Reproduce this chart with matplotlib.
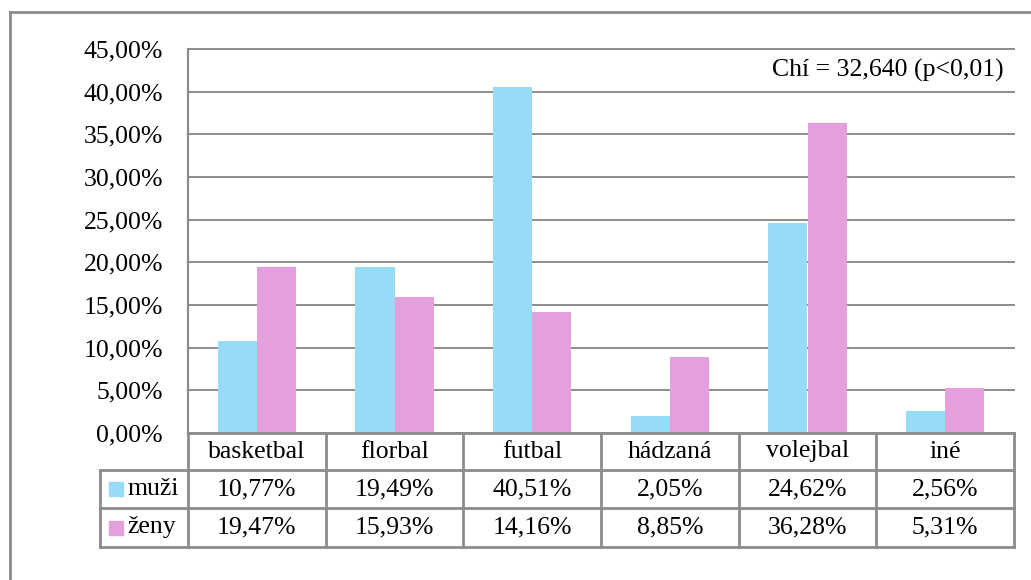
import numpy as np
import matplotlib
matplotlib.use("Agg")
import matplotlib.pyplot as plt
from matplotlib.lines import Line2D
from matplotlib.patches import Rectangle
import matplotlib.transforms as mtransforms

plt.rcParams['font.family'] = ['Liberation Serif', 'DejaVu Serif']

categories = ["basketbal", "florbal", "futbal", "hádzaná", "volejbal", "iné"]
muzi = [10.77, 19.49, 40.51, 2.05, 24.62, 2.56]
zeny = [19.47, 15.93, 14.16, 8.85, 36.28, 5.31]
series_names = ["muži", "ženy"]
yticks = np.arange(0, 46, 5)

c_muzi = "#97dbf7"
c_zeny = "#e4a0dc"
grid_c = "#8c8c8c"
fs = 18.5

W, H = 1031, 580
fig = plt.figure(figsize=(W / 100, H / 100), dpi=100)

# plot area in pixels
L, R, T, B = 188, 1014, 49, 433
ax = fig.add_axes([L / W, 1 - B / H, (R - L) / W, (B - T) / H])

x = np.arange(len(categories))
bw = 0.285
ax.bar(x - bw / 2, muzi, bw, color=c_muzi, zorder=3)
ax.bar(x + bw / 2, zeny, bw, color=c_zeny, zorder=3)

ax.set_xlim(-0.5, len(categories) - 0.5)
ax.set_ylim(0, 45)
ax.set_yticks(yticks)
ax.set_yticklabels([f"{v:.2f}%".replace(".", ",") for v in yticks], fontsize=fs)
ax.tick_params(axis="y", length=0, pad=18)
ax.tick_params(axis="x", length=0, labelbottom=False)
ax.yaxis.grid(True, color=grid_c, linewidth=1.4, zorder=0)
for gl in ax.get_ygridlines():
    gl.set_clip_on(False)
for s in ["top", "right", "bottom"]:
    ax.spines[s].set_visible(False)
ax.spines["left"].set_color(grid_c)
ax.spines["left"].set_linewidth(1.6)

ax.text(0.988, 0.943, "Chí = 32,640 (p<0,01)", transform=ax.transAxes,
        ha="right", va="center", fontsize=fs)

# data table below the plot
def fy(py):
    return 1 - py / H

def fx(px):
    return px / W

tc = "#8c8c8c"
lw = 2.0
rows = [433, 470, 508, 547]
col_w = (R - L) / len(categories)
cols = [L + i * col_w for i in range(len(categories) + 1)]
hx = 100

def hline(x0, x1, y):
    fig.add_artist(Line2D([fx(x0), fx(x1)], [fy(y), fy(y)], color=tc, lw=lw))

def vline(xp, y0, y1):
    fig.add_artist(Line2D([fx(xp), fx(xp)], [fy(y0), fy(y1)], color=tc, lw=lw))

hline(L, R, rows[0])
hline(hx, R, rows[1])
hline(hx, R, rows[2])
hline(hx, R, rows[3])
for c in cols:
    vline(c, rows[0], rows[3])
vline(hx, rows[1], rows[3])

blend = mtransforms.blended_transform_factory(ax.transData, fig.transFigure)
for i, cat in enumerate(categories):
    ax.text(x[i], fy((rows[0] + rows[1]) / 2), cat, transform=blend,
            ha="center", va="center", fontsize=fs)
    ax.text(x[i], fy((rows[1] + rows[2]) / 2), f"{muzi[i]:.2f}%".replace(".", ","),
            transform=blend, ha="center", va="center", fontsize=fs)
    ax.text(x[i], fy((rows[2] + rows[3]) / 2), f"{zeny[i]:.2f}%".replace(".", ","),
            transform=blend, ha="center", va="center", fontsize=fs)

for k, (name, col) in enumerate(zip(series_names, [c_muzi, c_zeny])):
    yc = (rows[k + 1] + rows[k + 2]) / 2
    fig.add_artist(Rectangle((fx(109), fy(yc + 7)), 14 / W, 14 / H,
                             transform=fig.transFigure, color=col))
    fig.text(fx(127), fy(yc), name, ha="left", va="center", fontsize=fs)

# outer chart border (extends past image edges)
fig.add_artist(Line2D([fx(10), fx(W + 5)], [fy(12), fy(12)], color=tc, lw=2))
fig.add_artist(Line2D([fx(10), fx(10)], [fy(12), fy(H + 5)], color=tc, lw=2))

fig.savefig("out.png", dpi=100)
